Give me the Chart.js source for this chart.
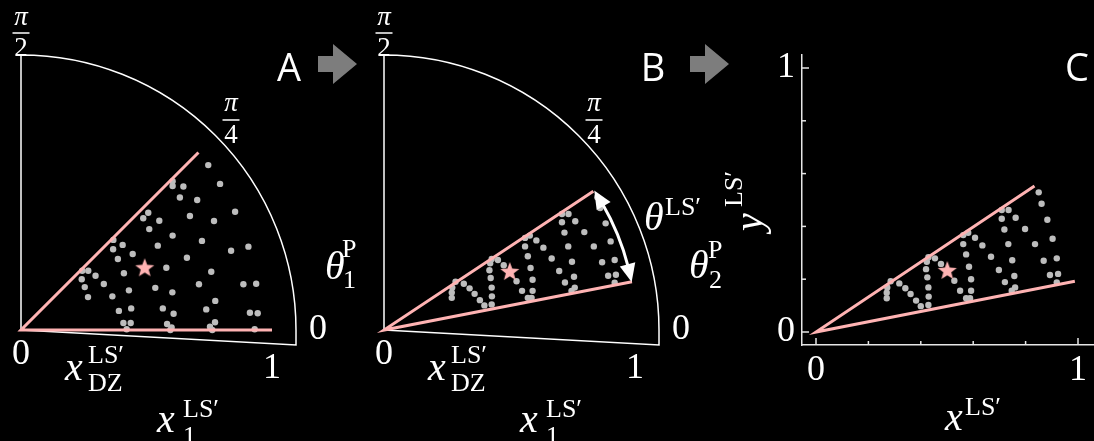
<!DOCTYPE html>
<html><head><meta charset="utf-8">
<script src="https://cdn.jsdelivr.net/npm/chart.js@4.4.0/dist/chart.umd.min.js"></script>
<style>
html,body{margin:0;padding:0;background:#000;width:1094px;height:441px;overflow:hidden;}
canvas{position:absolute;top:0;}
#cA{left:0px}#cB{left:363px}#cC{left:718px}
.fp{position:absolute;left:-1000px;top:0;color:#000;font-size:20px}
</style></head><body>
<span class="fp" style="font-family:'Liberation Serif'">x θ 0 1 π</span>
<span class="fp" style="font-family:'Liberation Serif';font-style:italic">x θ y π</span>
<span class="fp" style="font-family:'Open Sans'">ABC</span>
<canvas id="cA" width="363" height="441"></canvas>
<canvas id="cB" width="367" height="441"></canvas>
<canvas id="cC" width="376" height="441"></canvas>
<script>
// ---------------- DATA ----------------
// Panel A: samples in (x1, theta^P) sector, cartesian coordinates, unit radius
const panelA_x = [0.746,0.793,0.604,0.604,0.647,0.633,0.702,0.853,0.673,0.769,0.507,0.487,0.551,0.511,0.604,0.721,0.368,0.405,0.367,0.545,0.837,0.906,0.445,0.386,0.661,0.579,0.758,0.244,0.268,0.297,0.410,0.242,0.330,0.535,0.603,0.709,0.886,0.937,0.254,0.430,0.364,0.267,0.774,0.565,0.439,0.390,0.608,0.738,0.912,0.943,0.408,0.437,0.582,0.600,0.773,0.753,0.421,0.595,0.762,0.931];
const panelA_y = [0.657,0.582,0.593,0.574,0.572,0.528,0.518,0.471,0.454,0.434,0.467,0.445,0.435,0.402,0.376,0.355,0.359,0.339,0.322,0.336,0.316,0.332,0.303,0.283,0.288,0.248,0.232,0.236,0.236,0.216,0.226,0.202,0.183,0.168,0.150,0.182,0.182,0.184,0.171,0.158,0.134,0.131,0.116,0.086,0.086,0.076,0.065,0.082,0.069,0.067,0.028,0.028,0.024,0.010,0.031,0.013,0.003,0.000,0.000,0.003];
const starA = {x:0.493, y:0.246};
const wedgeA = [{x:1.0,y:0.0},{x:0,y:0},{x:0.707,y:0.707}];

// Panels B and C: the same samples after the mapping (x^LS', y^LS')
const panelBC_x = [0.285,0.272,0.270,0.270,0.318,0.341,0.361,0.382,0.400,0.429,0.430,0.429,0.425,0.420,0.423,0.429,0.454,0.477,0.528,0.550,0.573,0.588,0.592,0.592,0.584,0.573,0.562,0.562,0.581,0.607,0.635,0.668,0.698,0.721,0.747,0.760,0.757,0.749,0.734,0.719,0.709,0.709,0.735,0.762,0.798,0.836,0.869,0.893,0.919,0.924,0.919,0.903,0.883,0.861,0.850];
const panelBC_y = [0.192,0.169,0.149,0.128,0.184,0.166,0.144,0.119,0.098,0.102,0.134,0.169,0.207,0.238,0.266,0.283,0.279,0.258,0.194,0.156,0.128,0.128,0.156,0.200,0.247,0.294,0.333,0.367,0.376,0.357,0.328,0.285,0.235,0.189,0.156,0.169,0.212,0.272,0.333,0.388,0.429,0.462,0.462,0.433,0.390,0.333,0.270,0.216,0.188,0.220,0.279,0.353,0.425,0.486,0.529];
const starBC = {x:0.501, y:0.231};
const wedgeBC = [{x:0.988,y:0.192},{x:0,y:0},{x:0.834,y:0.553}];

// tick labels
const radialTickValues = [0, 1];
const radialTickLabels = ['0', '1'];
const angleTickDegrees = [0, 45, 90];
const angleTickLabels = [['0'], ['π','4'], ['π','2']];
const cTickLabels = {0:'0', 1:'1'};
const panelLetters = ['A','B','C'];

// ---------------- STYLE ----------------
const PINK = '#ffb3b3', GREY = '#bdbdbd', WHITE = '#ffffff', ARROWGREY = '#7d7d7d';
const SERIF = "'Liberation Serif'";
const IT_BASE = "italic 40px " + SERIF;
const SCRIPT = "26px " + SERIF;
const NUM = "36px " + SERIF;
const PPU = 251;            // pixels per unit in panels A and B
const ORIGIN = {x:21, y:330};
const FRAME_R = 275 / PPU;  // outer polar frame radius
const FRAME_TILT = 15 / PPU;

function toPts(xs, ys){ return xs.map((x,i)=>({x:x, y:ys[i]})); }

function makeStar(R, r, color){
  const s = Math.ceil(2*R)+2, c = document.createElement('canvas');
  c.width = s; c.height = s;
  const g = c.getContext('2d'); g.fillStyle = color; g.beginPath();
  for (let k=0;k<10;k++){
    const a = -Math.PI/2 + k*Math.PI/5, rr = (k%2===0)?R:r;
    const px = s/2 + rr*Math.cos(a), py = s/2 + rr*Math.sin(a);
    k===0 ? g.moveTo(px,py) : g.lineTo(px,py);
  }
  g.closePath(); g.fill();
  return c;
}

function fillMath(ctx, ox, oy, s){
  ctx.save();
  ctx.fillStyle = WHITE; ctx.textAlign='left'; ctx.textBaseline='alphabetic';
  ctx.font = IT_BASE; ctx.fillText(s.base, ox+s.x, oy+s.y);
  ctx.font = SCRIPT;
  if (s.sup) ctx.fillText(s.sup, ox+s.supX, oy+s.supY);
  if (s.sub) ctx.fillText(s.sub, ox+s.subX, oy+s.subY);
  ctx.restore();
}
function fillFrac(ctx, cx, cy, num, den){
  ctx.save(); ctx.fillStyle = WHITE; ctx.textAlign='center'; ctx.textBaseline='alphabetic';
  ctx.font = "italic 27px " + SERIF; ctx.fillText(num, cx, cy-8.5);
  ctx.fillRect(cx-8.5, cy-0.75, 17, 1.5);
  ctx.font = "27px " + SERIF; ctx.fillText(den, cx, cy+23);
  ctx.restore();
}
function greyArrow(ctx, x, yc){
  ctx.save(); ctx.fillStyle = ARROWGREY; ctx.beginPath();
  ctx.moveTo(x, yc-8); ctx.lineTo(x+15, yc-8); ctx.lineTo(x+15, yc-20);
  ctx.lineTo(x+39, yc); ctx.lineTo(x+15, yc+20); ctx.lineTo(x+15, yc+8); ctx.lineTo(x, yc+8);
  ctx.closePath(); ctx.fill(); ctx.restore();
}
function letter(ctx, t, cx, by){
  ctx.save(); ctx.fillStyle = WHITE; ctx.font = "38px 'Open Sans'";
  ctx.textAlign='center'; ctx.textBaseline='alphabetic'; ctx.fillText(t, cx, by); ctx.restore();
}

function polarPlugin(panel){
  return {
    id:'polar'+panel,
    beforeDatasetsDraw(chart){
      const ctx = chart.ctx, sx = chart.scales.x, sy = chart.scales.y;
      const ox = sx.getPixelForValue(0), oy = sy.getPixelForValue(0);
      const rpx = sx.getPixelForValue(FRAME_R) - ox;
      ctx.save(); ctx.strokeStyle = WHITE; ctx.lineWidth = 1.5;
      ctx.beginPath();
      ctx.moveTo(ox, oy); ctx.lineTo(ox, sy.getPixelForValue(FRAME_R));
      ctx.arc(ox, oy, rpx, -Math.PI/2, 0, false);
      ctx.lineTo(sx.getPixelForValue(FRAME_R), sy.getPixelForValue(-FRAME_TILT));
      ctx.lineTo(ox, oy);
      ctx.stroke(); ctx.restore();
    },
    afterDraw(chart){
      const ctx = chart.ctx, sx = chart.scales.x, sy = chart.scales.y;
      const ox = sx.getPixelForValue(0), oy = sy.getPixelForValue(0);
      ctx.save(); ctx.fillStyle = WHITE; ctx.font = NUM; ctx.textAlign='center'; ctx.textBaseline='middle';
      radialTickValues.forEach((v,i)=>{
        const px = sx.getPixelForValue(v);
        const py = sy.getPixelForValue(-FRAME_TILT*v/FRAME_R) + 25;
        ctx.fillText(radialTickLabels[i], px, py);
      });
      ctx.restore();
      const rl = 297;
      angleTickDegrees.forEach((d,i)=>{
        const a = d*Math.PI/180, cx = ox + rl*Math.cos(a), cy = oy - rl*Math.sin(a);
        const lab = angleTickLabels[i];
        if (lab.length===1){
          ctx.save(); ctx.fillStyle = WHITE; ctx.font = NUM; ctx.textAlign='center'; ctx.textBaseline='middle';
          ctx.fillText(lab[0], cx, cy); ctx.restore();
        } else fillFrac(ctx, cx, cy, lab[0], lab[1]);
      });
      fillMath(ctx, ox, oy, {base:'x', x:44, y:50, sup:'LS′', supX:67, supY:33, sub:'DZ', subX:67, subY:61});
      fillMath(ctx, ox, oy, {base:'x', x:136, y:101.5, sup:'LS′', supX:162, supY:87, sub:'1', subX:162, subY:114});
      if (panel==='A'){
        fillMath(ctx, ox, oy, {base:'θ', x:304, y:-51, sup:'P', supX:321, supY:-73, sub:'1', subX:322, subY:-42});
        letter(ctx, panelLetters[0], ox+268, oy-249);
        greyArrow(ctx, ox+297, oy-266);
      } else {
        fillMath(ctx, ox, oy, {base:'θ', x:305, y:-52, sup:'P', supX:324, supY:-72, sub:'2', subX:325, subY:-42});
        fillMath(ctx, ox, oy, {base:'θ', x:260, y:-100, sup:'LS′', supX:281, supY:-115});
        letter(ctx, panelLetters[1], ox+269, oy-249);
        greyArrow(ctx, ox+306, oy-266);
      }
    },
    afterDatasetsDraw(chart){
      if (panel!=='B') return;
      const ctx = chart.ctx, sx = chart.scales.x, sy = chart.scales.y;
      const ox = sx.getPixelForValue(0), oy = sy.getPixelForValue(0);
      const up = wedgeBC[2], lo = wedgeBC[0];
      const aU = Math.atan2(up.y, up.x), aL = Math.atan2(lo.y, lo.x);
      const r = (sx.getPixelForValue(1.005) - ox);
      const head = 18, hw = 8, dA = head/r;
      ctx.save(); ctx.strokeStyle = WHITE; ctx.fillStyle = WHITE; ctx.lineWidth = 3;
      ctx.beginPath(); ctx.arc(ox, oy, r, -(aU-dA*0.8), -(aL+dA*0.8), false); ctx.stroke();
      [[aU,-1],[aL,1]].forEach(([a,s])=>{
        const tx = ox + r*Math.cos(a), ty = oy - r*Math.sin(a);
        const b = a + s*dA;
        const bx = ox + r*Math.cos(b), by = oy - r*Math.sin(b);
        const nx = Math.cos(b), ny = -Math.sin(b);
        ctx.beginPath(); ctx.moveTo(tx,ty);
        ctx.lineTo(bx + hw*nx, by + hw*ny); ctx.lineTo(bx - hw*nx, by - hw*ny);
        ctx.closePath(); ctx.fill();
      });
      ctx.restore();
    }
  };
}

function polarChart(id, panel, xs, ys, star, wedge, STAR){
  const cv = document.getElementById(id);
  const w = cv.width, h = cv.height;
  return new Chart(cv, {
    type:'scatter',
    data:{datasets:[
      {data:[star], pointStyle:STAR, pointRadius:10, order:0},
      {data:wedge, showLine:true, borderColor:PINK, borderWidth:3, pointRadius:0, borderCapStyle:'butt', order:1},
      {data:toPts(xs,ys), pointRadius:3.2, pointBackgroundColor:GREY, pointBorderWidth:0, order:2}
    ]},
    options:{
      responsive:false, animation:false, devicePixelRatio:1,
      layout:{padding:0, autoPadding:false},
      plugins:{legend:{display:false}, tooltip:{enabled:false}},
      scales:{
        x:{type:'linear', display:false, min:-ORIGIN.x/PPU, max:(w-ORIGIN.x)/PPU},
        y:{type:'linear', display:false, min:-(h-ORIGIN.y)/PPU, max:ORIGIN.y/PPU}
      }
    },
    plugins:[polarPlugin(panel)]
  });
}

const AXIS_COL = '#e6e6e6';
const C_LEFT = 84;   // y-axis position inside panel C canvas
const cPlugin = {
  id:'cdeco',
  afterDraw(chart){
    const ctx = chart.ctx, sx = chart.scales.x, sy = chart.scales.y, a = chart.chartArea;
    ctx.save(); ctx.strokeStyle = AXIS_COL; ctx.lineWidth = 1.5;
    sx.ticks.forEach(t=>{
      const p = sx.getPixelForValue(t.value), L = (t.value===0||t.value===1)?7:4;
      ctx.beginPath(); ctx.moveTo(p, a.bottom); ctx.lineTo(p, a.bottom-L); ctx.stroke();
    });
    sy.ticks.forEach(t=>{
      const p = sy.getPixelForValue(t.value), L = (t.value===0||t.value===1)?7:4;
      ctx.beginPath(); ctx.moveTo(a.left, p); ctx.lineTo(a.left+L, p); ctx.stroke();
    });
    ctx.restore();
    fillMath(ctx, a.left, 0, {base:'x', x:143, y:430, sup:'LS′', supX:163, supY:415});
    ctx.save(); ctx.translate(a.left-40, 231); ctx.rotate(-Math.PI/2);
    fillMath(ctx, 0, 0, {base:'y', x:0, y:0, sup:'LS′', supX:24, supY:-20});
    ctx.restore();
    letter(ctx, panelLetters[2], a.left+275, 81);
  }
};
const tickCb = v => { const k = Math.round(v*1000)/1000; return (k in cTickLabels) ? cTickLabels[k] : ''; };

function build(){
  const STAR = makeStar(10, 4.2, PINK);
  polarChart('cA','A', panelA_x, panelA_y, starA, wedgeA, STAR);
  polarChart('cB','B', panelBC_x, panelBC_y, starBC, wedgeBC, STAR);
  new Chart(document.getElementById('cC'), {
    type:'scatter',
    data:{datasets:[
      {data:[starBC], pointStyle:STAR, pointRadius:10, order:0},
      {data:wedgeBC, showLine:true, borderColor:PINK, borderWidth:3, pointRadius:0, borderCapStyle:'butt', order:1},
      {data:toPts(panelBC_x,panelBC_y), pointRadius:3.2, pointBackgroundColor:GREY, pointBorderWidth:0, order:2}
    ]},
    options:{
      responsive:false, animation:false, devicePixelRatio:1,
      layout:{padding:{top:55, left:0, right:0, bottom:0}, autoPadding:false},
      plugins:{legend:{display:false}, tooltip:{enabled:false}},
      scales:{
        x:{type:'linear', min:-14/262, max:278/262,
           afterFit(s){ s.height = 96; },
           grid:{display:false, drawTicks:false},
           border:{display:true, color:AXIS_COL, width:1.5},
           ticks:{stepSize:0.2, includeBounds:false, autoSkip:false, maxRotation:0, callback:tickCb,
                  color:WHITE, padding:4, font:{family:"'Liberation Serif'", size:36}}},
        y:{type:'linear', min:-13/264, max:277/264,
           afterFit(s){ s.width = C_LEFT; },
           grid:{display:false, drawTicks:false},
           border:{display:true, color:AXIS_COL, width:1.5},
           ticks:{stepSize:0.2, includeBounds:false, autoSkip:false, callback:tickCb,
                  color:WHITE, padding:7, font:{family:"'Liberation Serif'", size:36}}}
      }
    },
    plugins:[cPlugin]
  });
}
const fontLoads = ["36px 'Liberation Serif'", "italic 40px 'Liberation Serif'", "38px 'Open Sans'"].map(f => document.fonts.load(f, 'x0θπ'));
Promise.all(fontLoads).then(build, build);
</script>
</body></html>
